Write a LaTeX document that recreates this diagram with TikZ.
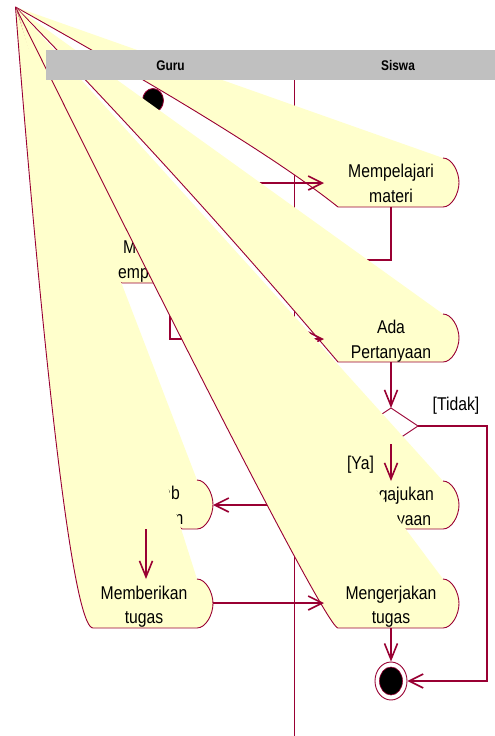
\documentclass[tikz,border=0pt]{standalone}
\usepackage{fontspec}
\usetikzlibrary{arrows.meta,shapes.geometric}
\newfontfamily\rosefont{Liberation Sans}[FakeStretch=0.85]
\definecolor{rose}{RGB}{153,0,51}
\definecolor{ryel}{RGB}{255,255,204}
\definecolor{rgray}{RGB}{192,192,192}
% activity shape: TRx, ytop, bulge x, ybot, BLx, control1, control2
\newcommand{\actshape}[7]{%
  \pgfmathsetmacro\aymid{(#2+#4)/2}%
  \pgfmathsetmacro\aky{0.552*(#4-#2)/2}%
  \pgfmathsetmacro\akx{0.552*(#3-#1)}%
  \fill[shapefill] (apex) -- (#1,#2)
    .. controls ({#1+\akx},#2) and (#3,{#2+\aky}) .. (#3,\aymid)
    .. controls (#3,{#4-\aky}) and ({#1+\akx},#4) .. (#1,#4)
    -- (#5,#4) .. controls #6 and #7 .. (apex) -- cycle;
  \draw[shapeline] (#1,#2)
    .. controls ({#1+\akx},#2) and (#3,{#2+\aky}) .. (#3,\aymid)
    .. controls (#3,{#4-\aky}) and ({#1+\akx},#4) .. (#1,#4)
    -- (#5,#4) .. controls #6 and #7 .. (apex);
}
\begin{document}
\begin{tikzpicture}[x=1pt,y=-1pt,
  shapefill/.style={fill=ryel},
  shapeline/.style={draw=rose, line width=0.9pt, line join=round},
  conn/.style={draw=rose, line width=1.6pt},
  arrh/.style={conn, -{Straight Barb[length=14pt, width=14pt]}},
  arrv/.style={conn, -{Straight Barb[length=16pt, width=13pt]}},
  lbl/.style={font=\rosefont\fontsize{18.5}{22}\selectfont, inner sep=0pt, anchor=base},
  lblw/.style={lbl, anchor=base west},
  head/.style={font=\rosefont\bfseries\fontsize{14}{16}\selectfont, inner sep=0pt, anchor=base}]
\useasboundingbox (0,0) rectangle (495,736);
\coordinate (apex) at (15.5,7);

% swimlane divider
\draw[draw=rose, line width=0.9pt] (294,80) -- (294,736);

% initial state
\node[ellipse, draw=rose, fill=black, line width=0.8pt, minimum width=21pt, minimum height=24pt, inner sep=0pt] (init) at (153,100.5) {};

% Mempelajari materi
\actshape{443}{158}{459}{207}{338}{(281.3,161.7)}{(173.7,95.3)}
\node[lbl] (mp1) at (391,177.5) {Mempelajari};
\node[lbl] (mp2) at (391,202.5) {materi};
\coordinate (mpL) at (324,183);
\coordinate (mpB) at (391,207);
\coordinate (g1R) at (213,183);
\draw[arrh] (g1R) -- (mpL);

% connector Mempelajari -> guru activity
\coordinate (meR) at (252,260);
\draw[arrh] (mpB) |- (meR);

% guru activity (partly hidden)
\actshape{198}{234}{212}{283}{122}{(106,283)}{(apex)}
\node[lblw] (me1) at (123,253.5) {Me};
\node[lblw] (me2) at (118,278) {empa};
\coordinate (meB) at (170,283);

% Ada Pertanyaan
\actshape{443}{314}{459}{362}{338}{(234.7,240)}{(127.2,121.7)}
\node[lbl] (ad1) at (391,333.5) {Ada};
\node[lbl] (ad2) at (391,358.5) {Pertanyaan};
\coordinate (adL) at (324,339);
\coordinate (adB) at (391,362);
\draw[arrh] (meB) |- (adL);

% decision
\coordinate (decT) at (391,408);
\coordinate (decR) at (418,426);
\coordinate (decB) at (391,444);
\coordinate (decL) at (364,426);
\draw[arrv] (adB) -- (decT);
\draw[draw=rose, fill=white, line width=0.9pt] (decT) -- (decR) -- (decB) -- (decL) -- cycle;

% final state
\node[ellipse, draw=rose, fill=white, line width=0.9pt, minimum width=32pt, minimum height=38pt, inner sep=0pt] (fin) at (391,681) {};
\node[ellipse, draw=rose, fill=black, line width=0.6pt, minimum width=23pt, minimum height=28pt, inner sep=0pt] (fincore) at (fin) {};
\draw[arrh] (decR) -- (487,426) |- (fin.east);

% Mengajukan Pertanyaan
\actshape{443}{481}{459}{529}{338}{(322,529)}{(apex)}
\node[lbl] (mj1) at (391,500) {Mengajukan};
\node[lbl] (mj2) at (391,525) {Pertanyaan};
\coordinate (mjT) at (391,481);
\coordinate (mjL) at (324,505);
\draw[arrv] (decB) -- (mjT);
\coordinate (jwR) at (213,505);
\draw[arrh] (mjL) -- (jwR);

% Menjawab pertanyaan
\actshape{197}{480}{213}{529}{182}{(166,529)}{(apex)}
\node[lbl] (jw1) at (144,499.5) {Menjawab};
\node[lbl] (jw2) at (144,524.5) {pertanyaan};
\coordinate (jwB) at (146,529);

% Mengerjakan tugas
\actshape{443}{579}{459}{628}{338}{(322,628)}{(apex)}
\node[lbl] (mk1) at (391,599) {Mengerjakan};
\node[lbl] (mk2) at (391,623.5) {tugas};
\coordinate (mkL) at (324,603);
\coordinate (mkB) at (391,628);

% Memberikan tugas
\actshape{197}{579}{213}{628}{93}{(62,628)}{(apex)}
\node[lbl] (mb1) at (144,599) {Memberikan};
\node[lbl] (mb2) at (144,623.5) {tugas};
\coordinate (mbT) at (146,579);
\coordinate (mbR) at (213,603);

\draw[arrv] (jwB) -- (mbT);
\draw[arrh] (mbR) -- (mkL);
\draw[arrv] (mkB) -- (fin.north);

% guard labels
\node[lbl] (ya) at (360.5,469) {[Ya]};
\node[lbl] (tidak) at (456,410) {[Tidak]};

% header
\fill[rgray] (46,50) rectangle (495,80);
\node[head] (guru) at (170.5,70) {Guru};
\node[head] (siswa) at (398,70) {Siswa};
\end{tikzpicture}
\end{document}
